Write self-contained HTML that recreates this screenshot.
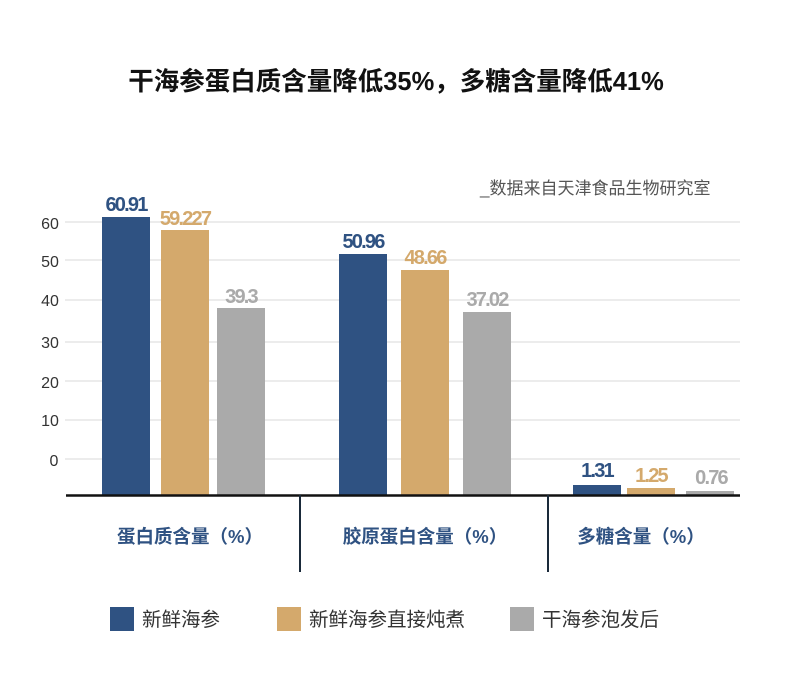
<!DOCTYPE html>
<html><head><meta charset="utf-8"><style>
body{margin:0;background:#fff;}
svg text{font-family:"Liberation Sans","Noto Sans CJK SC",sans-serif;}
</style></head><body>
<svg width="790" height="689" xmlns="http://www.w3.org/2000/svg">
<text x="396" y="90" text-anchor="middle" font-size="25.5" font-weight="bold" fill="#111">干海参蛋白质含量降低35%，多糖含量降低41%</text>
<text x="480" y="194" font-size="17" fill="#555">_数据来自天津食品生物研究室</text>
<g stroke="#d8d8d8" stroke-width="1">
<line x1="65" y1="222" x2="740" y2="222"/><line x1="65" y1="260" x2="740" y2="260"/>
<line x1="65" y1="300" x2="740" y2="300"/><line x1="65" y1="342" x2="740" y2="342"/>
<line x1="65" y1="381" x2="740" y2="381"/><line x1="65" y1="420" x2="740" y2="420"/>
<line x1="65" y1="459" x2="740" y2="459"/>
</g>
<g font-size="16" fill="#333" text-anchor="middle">
<text x="50" y="229">60</text><text x="50" y="267">50</text><text x="50" y="306">40</text>
<text x="50" y="348">30</text><text x="50" y="388">20</text><text x="50" y="426">10</text>
<text x="54" y="466">0</text>
</g>
<rect x="102" y="217" width="48" height="278" fill="#2f5282"/>
<rect x="161" y="230" width="48" height="265" fill="#d4a96c"/>
<rect x="217" y="308" width="48" height="187" fill="#aaaaaa"/>
<rect x="339" y="254" width="48" height="241" fill="#2f5282"/>
<rect x="401" y="270" width="48" height="225" fill="#d4a96c"/>
<rect x="463" y="312" width="48" height="183" fill="#aaaaaa"/>
<rect x="573" y="485" width="48" height="10" fill="#2f5282"/>
<rect x="627" y="488" width="48" height="7" fill="#d4a96c"/>
<rect x="686" y="491" width="48" height="4" fill="#aaaaaa"/>
<g font-size="20" font-weight="bold" text-anchor="middle" letter-spacing="-1.8">
<text x="126" y="211" fill="#2f5282">60.91</text>
<text x="185" y="225" fill="#d4a96c">59.227</text>
<text x="241" y="303" fill="#aaaaaa">39.3</text>
<text x="363" y="248" fill="#2f5282">50.96</text>
<text x="425" y="264" fill="#d4a96c">48.66</text>
<text x="487" y="306" fill="#aaaaaa">37.02</text>
<text x="597" y="477" fill="#2f5282">1.31</text>
<text x="651" y="482" fill="#d4a96c">1.25</text>
<text x="711" y="484" fill="#aaaaaa">0.76</text>
</g>
<line x1="66" y1="495.5" x2="740" y2="495.5" stroke="#111" stroke-width="2.5"/>
<line x1="300" y1="495" x2="300" y2="572" stroke="#1a2a3a" stroke-width="2"/>
<line x1="548" y1="495" x2="548" y2="572" stroke="#1a2a3a" stroke-width="2"/>
<g font-size="18.5" font-weight="bold" fill="#2f5282" text-anchor="middle">
<text x="190" y="543">蛋白质含量（%）</text>
<text x="425" y="543">胶原蛋白含量（%）</text>
<text x="641" y="543">多糖含量（%）</text>
</g>
<rect x="110" y="607" width="24" height="24" fill="#2f5282"/>
<text x="142" y="626" font-size="19.5" fill="#333">新鲜海参</text>
<rect x="277" y="607" width="24" height="24" fill="#d4a96c"/>
<text x="309" y="626" font-size="19.5" fill="#333">新鲜海参直接炖煮</text>
<rect x="510" y="607" width="24" height="24" fill="#aaaaaa"/>
<text x="542" y="626" font-size="19.5" fill="#333">干海参泡发后</text>
</svg>
</body></html>
